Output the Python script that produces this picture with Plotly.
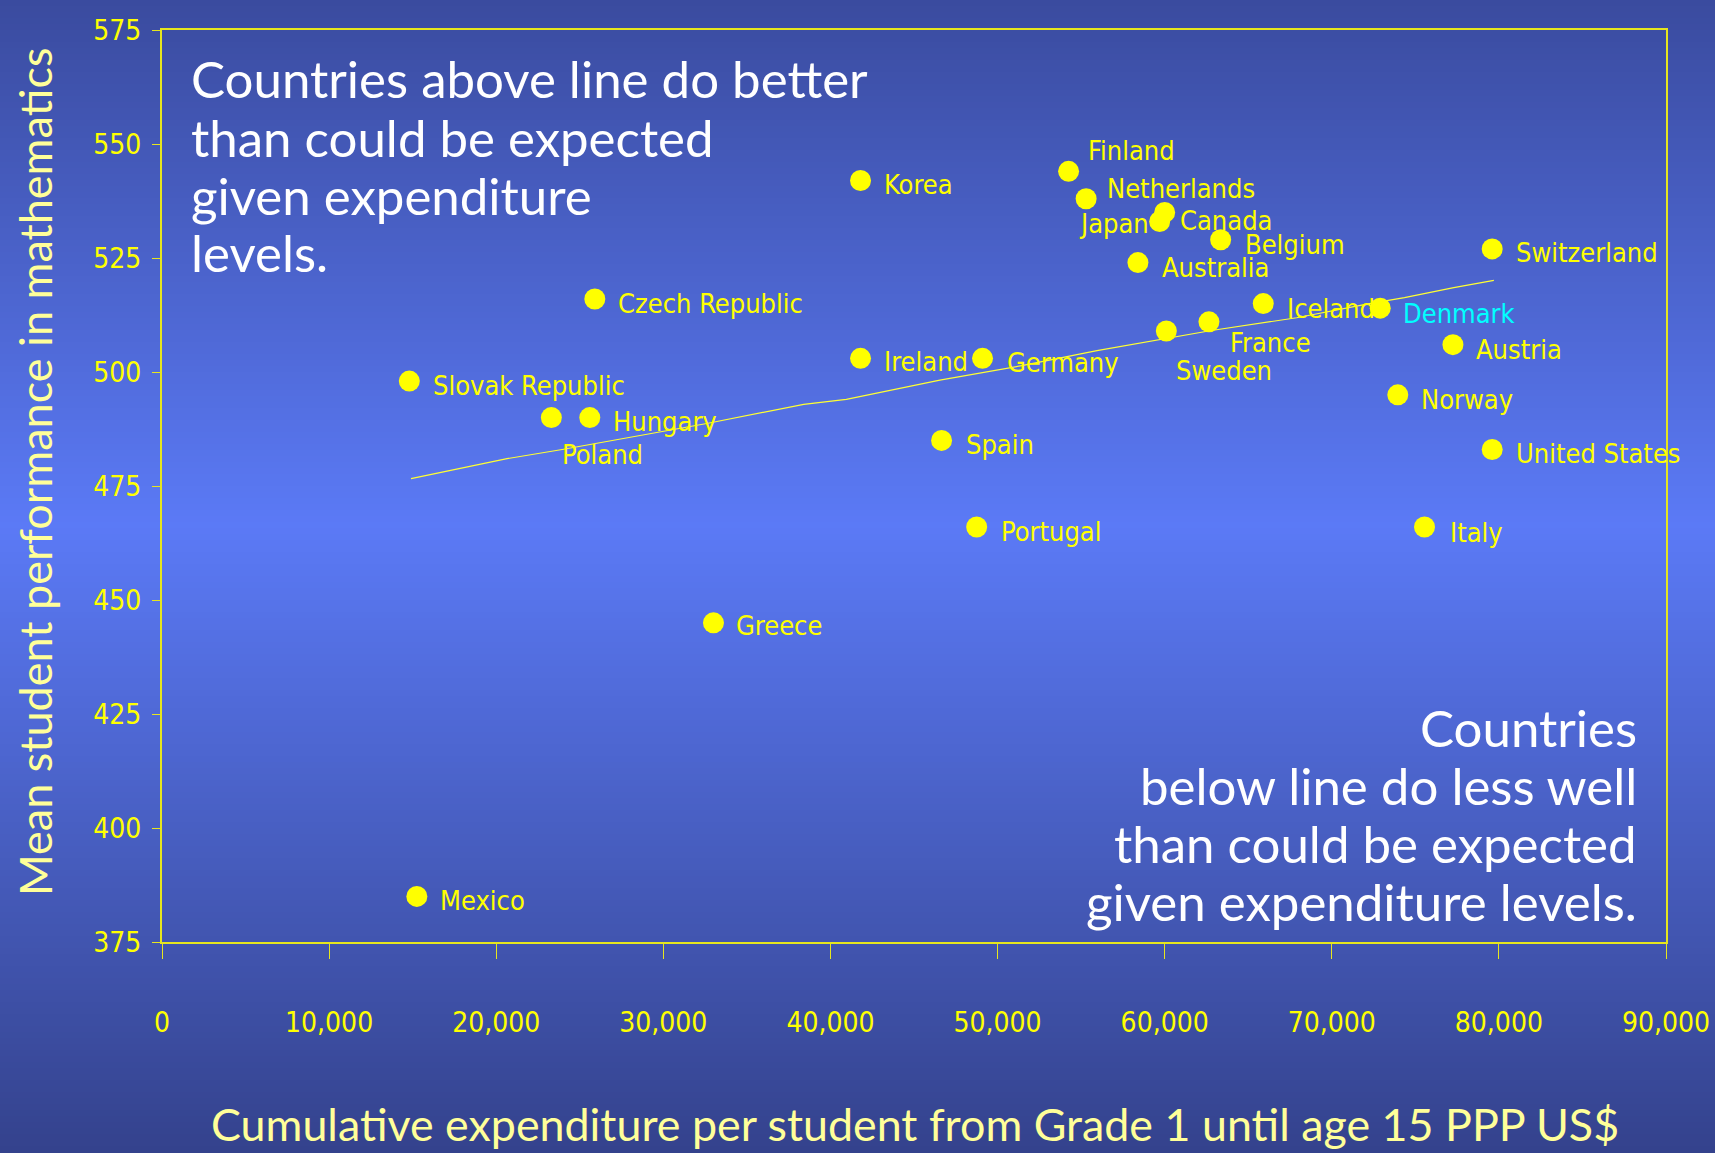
import plotly.graph_objects as go

# ---------------- data ----------------
countries = ["Korea", "Finland", "Netherlands", "Japan", "Canada", "Belgium", "Australia",
             "Switzerland", "Iceland", "Denmark", "France", "Sweden", "Czech Republic",
             "Ireland", "Germany", "Slovak Republic", "Hungary", "Poland", "Spain",
             "Austria", "Norway", "United States", "Portugal", "Italy", "Greece", "Mexico"]
expenditure = [41800, 54250, 55300, 59700, 60000, 63350, 58400,
               79600, 65900, 72900, 62650, 60100, 25900,
               41800, 49100, 14800, 25600, 23300, 46650,
               77250, 73950, 79600, 48750, 75550, 33000, 15250]
math_score = [542, 544, 538, 533, 535, 529, 524,
              527, 515, 514, 511, 509, 516,
              503, 503, 498, 490, 490, 485,
              506, 495, 483, 466, 466, 445, 385]

trend_x = [14900, 20650, 23950, 32600, 38400, 40950, 46550, 51450, 55950,
           60250, 62800, 67900, 72250, 74350, 77300, 79700]
trend_y = [476.6, 481.0, 483.0, 488.7, 492.9, 494.0, 498.2, 501.4, 504.7,
           507.4, 509.1, 511.9, 515.0, 516.3, 518.5, 520.1]

x_ticks = [0, 10000, 20000, 30000, 40000, 50000, 60000, 70000, 80000, 90000]
y_ticks = [375, 400, 425, 450, 475, 500, 525, 550, 575]

x_title = "Cumulative expenditure per student from Grade 1 until age 15 PPP US$"
y_title = "Mean student performance in mathematics"
note_above = ["Countries above line do better", "than could be expected",
              "given expenditure", "levels."]
note_below = ["Countries", "below line do less well", "than could be expected",
              "given expenditure levels."]

# ---------------- styling ----------------
W, H = 1715, 1153
ML, MR, MT, MB = 162, 49, 30, 211
PW, PH = W - ML - MR, H - MT - MB

NARROW = "DejaVu Sans Condensed, Liberation Sans Narrow, sans-serif"
HAND = "Lato, Open Sans, sans-serif"
YEL = "#ffff00"
LIGHTYEL = "#ffff99"

# label placement (pixel offsets from the dot: dx, dy(down), anchor)
label_offsets = {
    "Korea": (21, 4, "left"), "Finland": (17, -21, "left"), "Netherlands": (19, -10, "left"),
    "Japan": (-9, 2, "right"), "Canada": (13, 8, "left"), "Belgium": (22, 5, "left"),
    "Australia": (22, 5, "left"), "Switzerland": (22, 4, "left"), "Iceland": (22, 5, "left"),
    "Denmark": (21, 5, "left"), "France": (19, 21, "left"), "Sweden": (8, 40, "left"),
    "Czech Republic": (21, 4, "left"), "Ireland": (21, 3, "left"), "Germany": (22, 4, "left"),
    "Slovak Republic": (22, 4, "left"), "Hungary": (21, 4, "left"), "Poland": (9, 37, "left"),
    "Spain": (22, 4, "left"), "Austria": (21, 5, "left"), "Norway": (21, 5, "left"),
    "United States": (22, 4, "left"), "Portugal": (22, 4, "left"), "Italy": (23, 5, "left"),
    "Greece": (21, 3, "left"), "Mexico": (21, 4, "left"),
}
label_colors = {"Denmark": "#00ffff"}

fig = go.Figure()

fig.add_trace(go.Scatter(
    x=trend_x, y=trend_y, mode="lines",
    line=dict(color="#ffff33", width=1.2), hoverinfo="skip", showlegend=False))

fig.add_trace(go.Scatter(
    x=expenditure, y=math_score, mode="markers",
    marker=dict(color=YEL, size=21, line=dict(width=0)),
    text=countries, showlegend=False))

annotations = []
for c, xv, yv in zip(countries, expenditure, math_score):
    dx, dy, anc = label_offsets[c]
    annotations.append(dict(
        x=xv, y=yv, xref="x", yref="y", text=c, showarrow=False,
        xanchor=anc, yanchor="middle", xshift=dx, yshift=-dy,
        font=dict(family=NARROW, size=27, color=label_colors.get(c, YEL))))


def px_x(p):
    return (p - ML) / PW


def px_y(p):
    return (H - MB - p) / PH


above_y = [79, 137, 195, 253]
below_y = [727, 785, 843, 901]
for line, py in zip(note_above, above_y):
    annotations.append(dict(x=px_x(189), y=px_y(py), xref="paper", yref="paper", text=line,
                            showarrow=False, xanchor="left", yanchor="middle",
                            font=dict(family=HAND, size=51, color="white")))
for line, py in zip(note_below, below_y):
    annotations.append(dict(x=px_x(1639), y=px_y(py), xref="paper", yref="paper", text=line,
                            showarrow=False, xanchor="right", yanchor="middle",
                            font=dict(family=HAND, size=51, color="white")))

annotations += [
    dict(x=px_x(915), y=px_y(1124), xref="paper", yref="paper", text=x_title,
         showarrow=False, xanchor="center", yanchor="middle",
         font=dict(family=HAND, size=44.8, color=LIGHTYEL)),
    dict(x=px_x(35), y=px_y(472), xref="paper", yref="paper", text=y_title,
         showarrow=False, xanchor="center", yanchor="middle", textangle=-90,
         font=dict(family=HAND, size=45, color=LIGHTYEL)),
]

# vertical gradient background made of thin bands
stops = [(0, (58, 75, 158)), (525, (91, 122, 246)), (H, (52, 66, 140))]


def col_at(p):
    for (p0, c0), (p1, c1) in zip(stops[:-1], stops[1:]):
        if p0 <= p <= p1:
            t = (p - p0) / (p1 - p0)
            return "rgb(%d,%d,%d)" % tuple(round(a + (b - a) * t) for a, b in zip(c0, c1))
    return "rgb(%d,%d,%d)" % stops[-1][1]


shapes = []
step = 6
for p in range(0, H, step):
    shapes.append(dict(type="rect", xref="paper", yref="paper", layer="below",
                       x0=px_x(-5), x1=px_x(W + 5), y0=px_y(p + step + 1), y1=px_y(p),
                       fillcolor=col_at(p + step / 2), line=dict(width=0)))

fig.update_layout(
    width=W, height=H,
    margin=dict(l=ML, r=MR, t=MT, b=MB, autoexpand=False),
    paper_bgcolor="rgb(58,75,158)",
    plot_bgcolor="rgba(0,0,0,0)",
    shapes=shapes,
    annotations=annotations,
    showlegend=False,
    xaxis=dict(range=[0, 90000], tickvals=x_ticks, tickformat=",", showgrid=False,
               automargin=False,
               zeroline=False, showline=True, linecolor="#e6e61e", linewidth=2, mirror=True,
               ticks="outside", ticklen=15, tickcolor="#e6e61e", tickwidth=1,
               ticklabelstandoff=39, ticklabeloverflow="allow",
               tickfont=dict(family=NARROW, size=28, color=YEL)),
    yaxis=dict(range=[375, 575], tickvals=y_ticks, showgrid=False,
               automargin=False,
               zeroline=False, showline=True, linecolor="#e6e61e", linewidth=2, mirror=True,
               ticks="outside", ticklen=8, tickcolor="#e6e61e", tickwidth=1,
               ticklabelstandoff=5, ticklabeloverflow="allow",
               tickfont=dict(family=NARROW, size=28, color=YEL)),
)

fig.write_html("out.html")
